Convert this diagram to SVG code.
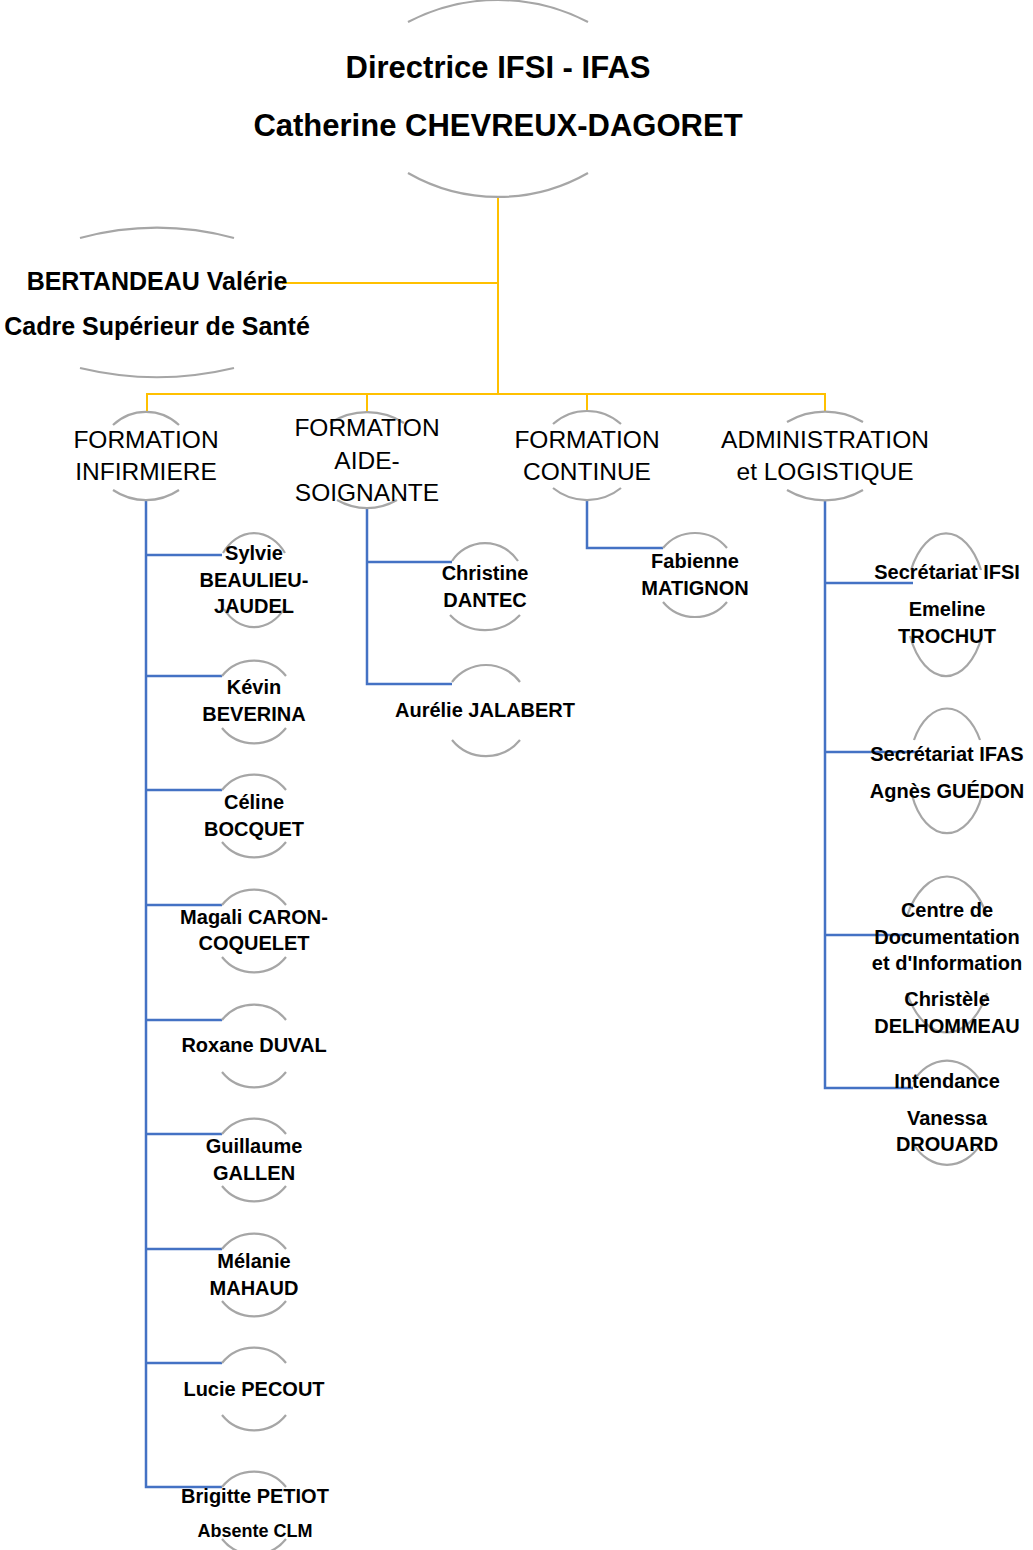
<svg xmlns="http://www.w3.org/2000/svg" width="1033" height="1550" viewBox="0 0 1033 1550">
<style>
.arc{fill:none;stroke:#a6a6a6;stroke-width:2.2}
.y{fill:none;stroke:#ffc000;stroke-width:2}
.b{fill:none;stroke:#4472c4;stroke-width:2.5}
text{font-family:"Liberation Sans",Arial,sans-serif;text-anchor:middle;fill:#000}
.n{font-weight:bold;font-size:20px}
.h{font-size:24.5px}
</style>
<rect width="1033" height="1550" fill="#fff"/>
<g id="connectors">
<path class="y" d="M498,197 V394 M282,283 H498 M147,412 V394 H825 V412 M367,394 V412 M587,394 V412"/>
<path class="b" d="M146,500 V1487 H222 M146,555 H222 M146,676 H222 M146,790 H222 M146,905 H222 M146,1020 H222 M146,1134 H222 M146,1249 H222 M146,1363 H222"/>
<path class="b" d="M367,508 V684 H452 M367,562 H452"/>
<path class="b" d="M587,500 V548 H663"/>
<path class="b" d="M825,500 V1088 H913 M825,583 H913 M825,752 H917 M825,935 H912"/>
</g>
<g id="director">
<path class="arc" d="M408,22 A195,195 0 0 1 588,22 M408,173 A181,181 0 0 0 588,173"/>
<text x="498" y="78" font-size="31" font-weight="bold">Directrice IFSI - IFAS</text>
<text x="498" y="136" font-size="31" font-weight="bold">Catherine CHEVREUX-DAGORET</text>
</g>
<g id="bertandeau">
<path class="arc" d="M80,238 A298,298 0 0 1 234,238 M80,368 A330,330 0 0 0 234,368"/>
<text x="157" y="290" font-size="25" font-weight="bold">BERTANDEAU Valérie</text>
<text x="157" y="335" font-size="25" font-weight="bold">Cadre Supérieur de Santé</text>
</g>
<g id="formation-infirmiere">
<path class="arc" d="M113,425 A48,48 0 0 1 179,425 M113,490 A59,59 0 0 0 179,490"/>
<text class="h" x="146" y="448">FORMATION</text>
<text class="h" x="146" y="480">INFIRMIERE</text>
</g>
<g id="formation-aide-soignante">
<path class="arc" d="M330,423 A68,68 0 0 1 404,423 M337,500 A60,60 0 0 0 397,500"/>
<text class="h" x="367" y="436">FORMATION</text>
<text class="h" x="367" y="469">AIDE-</text>
<text class="h" x="367" y="501">SOIGNANTE</text>
</g>
<g id="formation-continue">
<path class="arc" d="M553,424 A51,51 0 0 1 621,424 M553,488 A54,54 0 0 0 621,488"/>
<text class="h" x="587" y="448">FORMATION</text>
<text class="h" x="587" y="480">CONTINUE</text>
</g>
<g id="administration">
<path class="arc" d="M787,422 A75,75 0 0 1 863,422 M787,490 A75,75 0 0 0 863,490"/>
<text class="h" x="825" y="448">ADMINISTRATION</text>
<text class="h" x="825" y="480">et LOGISTIQUE</text>
</g>
<g id="sylvie">
<path class="arc" d="M223,553 A38,47 0 0 1 285,553 M224,609 A38,47 0 0 0 284,609"/>
<text class="n" x="254" y="560">Sylvie</text>
<text class="n" x="254" y="587">BEAULIEU-</text>
<text class="n" x="254" y="613">JAUDEL</text>
</g>
<g id="kevin">
<path class="arc" d="M222,676 A41,41 0 0 1 286,676 M222,728 A41,41 0 0 0 286,728"/>
<text class="n" x="254" y="694">Kévin</text>
<text class="n" x="254" y="721">BEVERINA</text>
</g>
<g id="celine">
<path class="arc" d="M222,790 A41,41 0 0 1 286,790 M222,842 A41,41 0 0 0 286,842"/>
<text class="n" x="254" y="809">Céline</text>
<text class="n" x="254" y="836">BOCQUET</text>
</g>
<g id="magali">
<path class="arc" d="M222,905 A41,41 0 0 1 286,905 M222,957 A41,41 0 0 0 286,957"/>
<text class="n" x="254" y="924">Magali CARON-</text>
<text class="n" x="254" y="950">COQUELET</text>
</g>
<g id="roxane">
<path class="arc" d="M222,1020 A41,41 0 0 1 286,1020 M222,1072 A41,41 0 0 0 286,1072"/>
<text class="n" x="254" y="1052">Roxane DUVAL</text>
</g>
<g id="guillaume">
<path class="arc" d="M222,1134 A41,41 0 0 1 286,1134 M222,1186 A41,41 0 0 0 286,1186"/>
<text class="n" x="254" y="1153">Guillaume</text>
<text class="n" x="254" y="1180">GALLEN</text>
</g>
<g id="melanie">
<path class="arc" d="M222,1249 A41,41 0 0 1 286,1249 M222,1301 A41,41 0 0 0 286,1301"/>
<text class="n" x="254" y="1268">Mélanie</text>
<text class="n" x="254" y="1295">MAHAUD</text>
</g>
<g id="lucie">
<path class="arc" d="M222,1363 A41,41 0 0 1 286,1363 M222,1415 A41,41 0 0 0 286,1415"/>
<text class="n" x="254" y="1396">Lucie PECOUT</text>
</g>
<g id="brigitte">
<path class="arc" d="M222,1487 A41,41 0 0 1 286,1487 M222,1539 A41,41 0 0 0 286,1539"/>
<text class="n" x="255" y="1503">Brigitte PETIOT</text>
<text x="255" y="1537" font-size="18" font-weight="bold">Absente CLM</text>
</g>
<g id="christine">
<path class="arc" d="M452,561 A39.5,39.5 0 0 1 518,561 M450,615 A48,48 0 0 0 520,615"/>
<text class="n" x="485" y="580">Christine</text>
<text class="n" x="485" y="607">DANTEC</text>
</g>
<g id="aurelie">
<path class="arc" d="M452,682 A42.5,42.5 0 0 1 520,682 M452,740 A44,44 0 0 0 520,740"/>
<text class="n" x="485" y="717">Aurélie JALABERT</text>
</g>
<g id="fabienne">
<path class="arc" d="M663,548 A41.6,41.6 0 0 1 727,548 M663,602 A41.6,41.6 0 0 0 727,602"/>
<text class="n" x="695" y="568">Fabienne</text>
<text class="n" x="695" y="595">MATIGNON</text>
</g>
<g id="secretariat-ifsi">
<path class="arc" d="M911,570 A40,71 0 0 1 981,570 M910,636 A40,71 0 0 0 982,636"/>
<text class="n" x="947" y="579">Secrétariat IFSI</text>
<text class="n" x="947" y="616">Emeline</text>
<text class="n" x="947" y="643">TROCHUT</text>
</g>
<g id="secretariat-ifas">
<path class="arc" d="M914,740 A38,62.5 0 0 1 980,740 M912,795 A38,62.5 0 0 0 982,795"/>
<text class="n" x="947" y="761">Secrétariat IFAS</text>
<text class="n" x="947" y="798">Agnès GUÉDON</text>
</g>
<g id="cdi">
<path class="arc" d="M907,916 A46,78 0 0 1 987,916 M907,993 A46,78 0 0 0 987,993"/>
<text class="n" x="947" y="917">Centre de</text>
<text class="n" x="947" y="944">Documentation</text>
<text class="n" x="947" y="970">et d'Information</text>
<text class="n" x="947" y="1006">Christèle</text>
<text class="n" x="947" y="1033">DELHOMMEAU</text>
</g>
<g id="intendance">
<path class="arc" d="M913,1082 A42,52 0 0 1 981,1082 M914,1145 A42,52 0 0 0 980,1145"/>
<text class="n" x="947" y="1088">Intendance</text>
<text class="n" x="947" y="1125">Vanessa</text>
<text class="n" x="947" y="1151">DROUARD</text>
</g>
</svg>
